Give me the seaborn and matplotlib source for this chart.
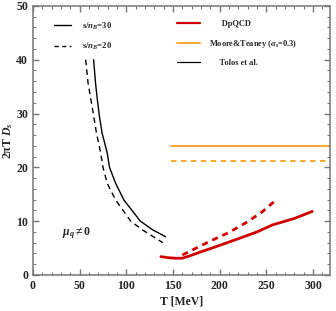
import matplotlib
matplotlib.use("Agg")
import matplotlib.pyplot as plt
from matplotlib.lines import Line2D
from matplotlib.ticker import MultipleLocator
import seaborn as sns
import pandas as pd

# Tolos et al. curves (black)
T_s30 = [65, 67, 69, 71, 74, 79.5, 82, 88.6, 97.5, 115, 128, 142]
D_s30 = [40, 35.7, 32.5, 29.7, 26.4, 22.7, 20, 17, 13.9, 10, 8.4, 7.1]
T_s20 = [56.5, 59, 64.6, 68, 72.5, 75, 79.6, 88.6, 104.7, 117, 139]
D_s20 = [40, 35.7, 30, 26.4, 22.7, 20, 17, 13.9, 10, 8.4, 6.0]

# DpQCD (red)
T_dp30 = [137, 145, 153, 160, 167, 180, 200, 221, 240, 256.5, 280, 299]
D_dp30 = [3.4, 3.2, 3.1, 3.1, 3.5, 4.3, 5.5, 6.8, 8.0, 9.3, 10.5, 11.8]
T_dp20 = [160, 175, 190, 210, 230, 246, 258]
D_dp20 = [3.7, 5.0, 6.3, 7.9, 9.9, 11.8, 13.6]

# Moore & Teaney (orange)
T_mt = [148, 330]
D_mt30 = [24.0, 24.0]
D_mt20 = [21.2, 21.2]

red = "#d10000"
orange = "#f7a21b"

sns.set_theme(style="ticks")
plt.rcParams["font.family"] = ["Liberation Serif", "DejaVu Serif"]
plt.rcParams["font.weight"] = "bold"
plt.rcParams["mathtext.fontset"] = "custom"
plt.rcParams["mathtext.rm"] = "Liberation Serif:bold"
plt.rcParams["mathtext.it"] = "Liberation Serif:italic:bold"
plt.rcParams["mathtext.bf"] = "Liberation Serif:bold"

fig = plt.figure(figsize=(3.36, 3.11), dpi=100)
ax = fig.add_axes([0.098, 0.116, 0.884, 0.865])

def draw(T, D, color, ls, lw):
    df = pd.DataFrame({"T": T, "D": D})
    sns.lineplot(data=df, x="T", y="D", color=color, linestyle=ls, linewidth=lw,
                 sort=False, estimator=None, ax=ax)

draw(T_s30, D_s30, "black", "-", 1.0)
draw(T_s20, D_s20, "black", (0, (4, 3)), 1.0)
draw(T_dp30, D_dp30, red, "-", 2.0)
draw(T_dp20, D_dp20, red, (0, (2.2, 1.8)), 2.0)
draw(T_mt, D_mt30, orange, "-", 1.3)
draw(T_mt, D_mt20, orange, (0, (3, 2.5)), 1.3)

ax.set_xlim(0, 318)
ax.set_ylim(0, 50)
ax.xaxis.set_major_locator(MultipleLocator(50))
ax.xaxis.set_minor_locator(MultipleLocator(10))
ax.yaxis.set_major_locator(MultipleLocator(10))
ax.yaxis.set_minor_locator(MultipleLocator(2))
ax.tick_params(which="both", direction="in", top=True, right=True,
               color="#777777", labelsize=8.5)
ax.tick_params(which="major", length=4, width=1.0)
ax.tick_params(which="minor", length=2, width=0.8)
for lab in ax.get_xticklabels() + ax.get_yticklabels():
    lab.set_fontweight("bold")
for sp in ax.spines.values():
    sp.set_color("#777777")
    sp.set_linewidth(1.1)

ax.set_xlabel("T [MeV]", fontsize=8.5, fontweight="bold", labelpad=3)
ax.set_ylabel("2πT $D_s$", fontsize=8.5, fontweight="bold", labelpad=1)

ax.text(31, 7.8, r"$\mu_q \neq 0$", fontsize=8.5, va="center")

# left legend
h_left = [Line2D([], [], color="black", lw=1.0),
          Line2D([], [], color="black", lw=1.0, ls=(0, (3, 2.5)))]
leg1 = ax.legend(h_left, ["s/$n_B$=30", "s/$n_B$=20"], loc="upper left",
                 bbox_to_anchor=(0.045, 0.975), frameon=False, fontsize=6.2,
                 handlelength=2.0, handletextpad=1.3, labelspacing=1.1)
ax.add_artist(leg1)

# right legend
h_right = [Line2D([], [], color=red, lw=1.6),
           Line2D([], [], color=orange, lw=1.3),
           Line2D([], [], color="black", lw=0.9)]
ax.legend(h_right, ["      DpQCD", r"Moore&Teaney ($\alpha_s$=0.3)", "     Tolos et al."],
          loc="upper left", bbox_to_anchor=(0.46, 0.975), frameon=False, fontsize=6,
          handlelength=2.8, handletextpad=1.0, labelspacing=1.15)

fig.savefig("out.png", dpi=100)
